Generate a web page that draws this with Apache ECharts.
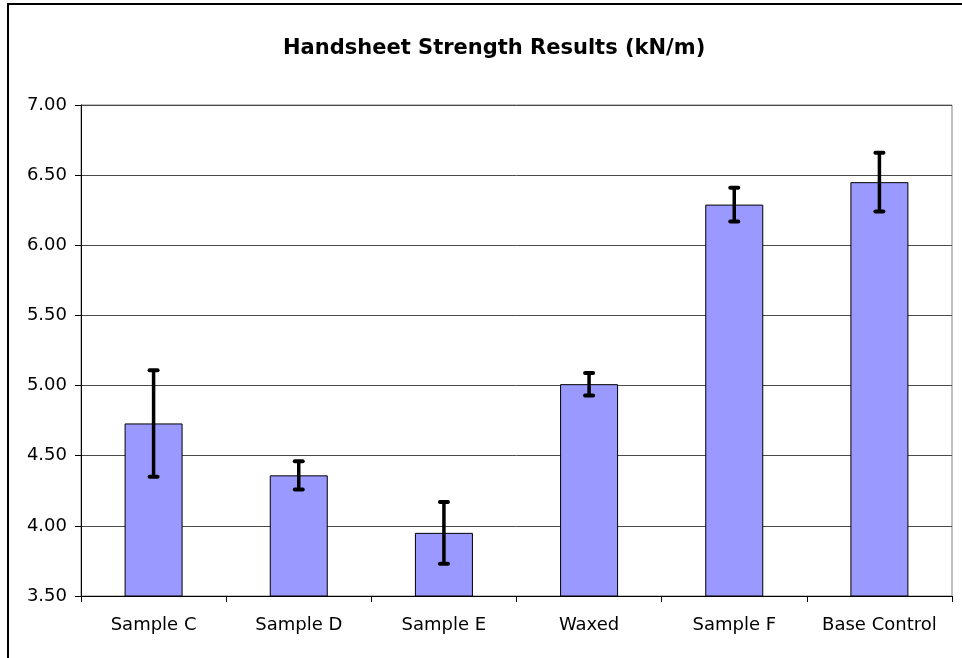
<!DOCTYPE html>
<html>
<head>
<meta charset="utf-8">
<script src="https://cdn.jsdelivr.net/npm/echarts@6/dist/echarts.min.js"></script>
<style>
  html, body { margin: 0; padding: 0; background: #fff; }
  #chart { width: 962px; height: 658px; }
</style>
</head>
<body>
<div id="chart"></div>
<script>
const titleText = 'Handsheet Strength Results (kN/m)';
const categories = ['Sample C', 'Sample D', 'Sample E', 'Waxed', 'Sample F', 'Base Control'];
const values = [4.73, 4.36, 3.95, 5.01, 6.29, 6.45];
const errorLow = [4.35, 4.26, 3.73, 4.93, 6.17, 6.24];
const errorHigh = [5.11, 4.46, 4.17, 5.09, 6.41, 6.66];
const yMin = 3.5, yMax = 7.0, yStep = 0.5;

const FONT = '"DejaVu Sans", "Liberation Sans", Arial, sans-serif';

const chart = echarts.init(document.getElementById('chart'), null, { renderer: 'canvas' });

const errData = categories.map((c, i) => [i, errorLow[i], errorHigh[i]]);

chart.setOption({
  animation: false,
  backgroundColor: '#ffffff',
  title: {
    text: titleText,
    left: 278,
    top: 33,
    textStyle: { fontFamily: FONT, fontSize: 21, fontWeight: 'bold', color: '#000' }
  },
  graphic: [{
    type: 'rect',
    shape: { x: 8, y: 4, width: 2000, height: 2000 },
    style: { fill: 'none', stroke: '#000', lineWidth: 2 },
    silent: true
  }],
  grid: {
    left: 81, right: 10, top: 105, bottom: 62,
    show: true, borderColor: '#808080', borderWidth: 1, backgroundColor: 'transparent'
  },
  xAxis: {
    type: 'category',
    data: categories,
    axisLine: { lineStyle: { color: '#000', width: 1 } },
    axisTick: { show: true, length: 6, lineStyle: { color: '#000' } },
    axisLabel: { fontFamily: FONT, fontSize: 18, color: '#000', margin: 20, interval: 0 },
    splitLine: { show: false }
  },
  yAxis: {
    type: 'value',
    min: yMin, max: yMax, interval: yStep,
    axisLine: { show: true, lineStyle: { color: '#000', width: 1 } },
    axisTick: { show: true, length: 6, lineStyle: { color: '#000' } },
    axisLabel: {
      fontFamily: FONT, fontSize: 18, color: '#000', margin: 14,
      formatter: v => v.toFixed(2)
    },
    splitLine: { show: true, lineStyle: { color: '#4a4a4a', width: 1 } }
  },
  series: [{
    type: 'bar',
    data: values,
    barWidth: 58,
    itemStyle: { color: '#9999FF', borderColor: '#000', borderWidth: 1 },
    z: 2
  }, {
    type: 'custom',
    data: errData,
    z: 3,
    renderItem: function (params, api) {
      const x = api.value(0);
      const lo = api.coord([x, api.value(1)]);
      const hi = api.coord([x, api.value(2)]);
      const half = 4;
      const st = { stroke: '#000', lineWidth: 4, lineCap: 'round' };
      return {
        type: 'group',
        children: [
          { type: 'line', shape: { x1: lo[0], y1: lo[1], x2: hi[0], y2: hi[1] }, style: { stroke: '#000', lineWidth: 3.5 } },
          { type: 'line', shape: { x1: hi[0] - half, y1: hi[1], x2: hi[0] + half, y2: hi[1] }, style: st },
          { type: 'line', shape: { x1: lo[0] - half, y1: lo[1], x2: lo[0] + half, y2: lo[1] }, style: st }
        ]
      };
    }
  }]
});
</script>
</body>
</html>
